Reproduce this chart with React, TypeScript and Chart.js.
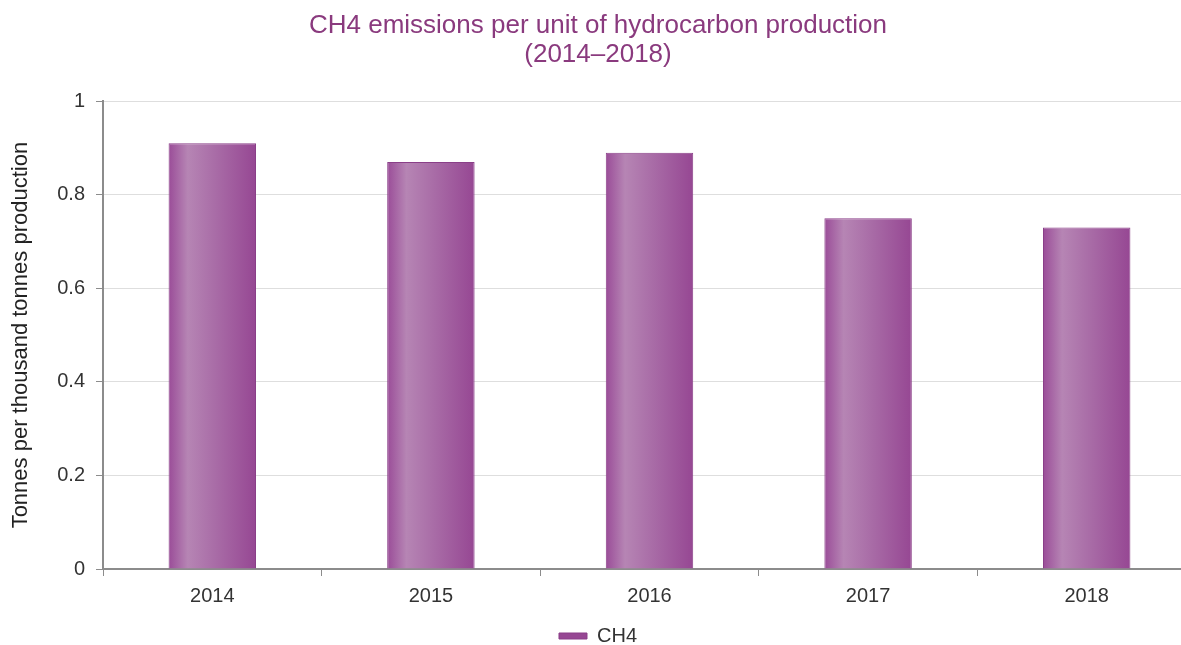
import { useEffect, useRef } from "react";
import { Chart, registerables } from "chart.js";

Chart.register(...registerables);

const years = ["2014", "2015", "2016", "2017", "2018"];
const ch4Values = [0.91, 0.87, 0.89, 0.75, 0.73];
const yTicks = [0, 0.2, 0.4, 0.6, 0.8, 1];
const yTickLabels = ["0", "0.2", "0.4", "0.6", "0.8", "1"];
const titleLines = ["CH4 emissions per unit of hydrocarbon production", "(2014–2018)"];
const yAxisLabel = "Tonnes per thousand tonnes production";
const seriesName = "CH4";

const FONT = "'Liberation Sans', Arial, sans-serif";
const BAR_PCT = 0.4;
const SOLID = "#a24fa0";

// Cylinder-like horizontal shading across each bar
function barFill(ctx: any) {
  const chart = ctx.chart;
  const xs = chart.scales && chart.scales.x;
  if (!xs || ctx.type !== "data") return SOLID;
  const cat = (xs.right - xs.left) / years.length;
  const w = cat * BAR_PCT;
  const cx = xs.getPixelForValue(ctx.dataIndex);
  if (!isFinite(cx) || !isFinite(w) || w <= 0) return SOLID;
  const g = chart.ctx.createLinearGradient(cx - w / 2, 0, cx + w / 2, 0);
  g.addColorStop(0, "#9a4c98");
  g.addColorStop(0.22, "#b685b4");
  g.addColorStop(0.55, "#a86ba6");
  g.addColorStop(1, "#964793");
  return g;
}

export default function App() {
  const ref = useRef<HTMLCanvasElement | null>(null);

  useEffect(() => {
    if (!ref.current) return;
    const chart = new Chart(ref.current, {
      type: "bar",
      data: {
        labels: years,
        datasets: [
          {
            label: seriesName,
            data: ch4Values,
            backgroundColor: barFill as any,
            borderColor: "#8a3f88",
            borderWidth: 1,
            barPercentage: BAR_PCT,
            categoryPercentage: 1,
          },
        ],
      },
      options: {
        animation: false,
        responsive: false,
        devicePixelRatio: 1,
        layout: { padding: { top: 0, left: 0, right: 0, bottom: 4 } },
        plugins: {
          title: {
            display: true,
            text: titleLines,
            color: "#8a3a7e",
            font: { family: FONT, size: 26, weight: "normal", lineHeight: 1.12 },
            padding: { top: 11, bottom: 32 },
          },
          legend: {
            position: "bottom",
            labels: {
              boxWidth: 28,
              boxHeight: 6,
              padding: 6,
              color: "#333",
              font: { family: FONT, size: 20 },
            },
          },
          tooltip: { enabled: false },
        },
        scales: {
          x: {
            grid: {
              display: true,
              drawOnChartArea: false,
              drawTicks: true,
              tickLength: 7,
              tickColor: "#8c8c8c",
              offset: true,
            },
            border: { display: true, color: "#8c8c8c", width: 2 },
            ticks: {
              color: "#333",
              font: { family: FONT, size: 20 },
              padding: 8,
              maxRotation: 0,
            },
            afterFit: (s: any) => {
              s.height = 51;
            },
          },
          y: {
            min: 0,
            max: 1,
            afterBuildTicks: (s: any) => {
              s.ticks = yTicks.map((v) => ({ value: v }));
            },
            grid: {
              color: "#dedede",
              lineWidth: 1,
              tickLength: 7,
              tickColor: "#8c8c8c",
            },
            border: { display: true, color: "#8c8c8c", width: 2 },
            ticks: {
              color: "#333",
              font: { family: FONT, size: 20 },
              padding: 11,
              callback: (_v: any, i: number) => yTickLabels[i],
            },
            title: {
              display: true,
              text: yAxisLabel,
              color: "#222",
              font: { family: FONT, size: 22 },
              padding: { top: 8, bottom: 0 },
            },
            afterFit: (s: any) => {
              s.width = 103;
            },
          },
        },
      },
    });
    return () => chart.destroy();
  }, []);

  return (
    <div
      style={{
        position: "fixed",
        left: 0,
        top: 0,
        width: 1181,
        height: 645,
        overflow: "hidden",
        background: "#fff",
      }}
    >
      <canvas ref={ref} width={1196} height={660} />
    </div>
  );
}
